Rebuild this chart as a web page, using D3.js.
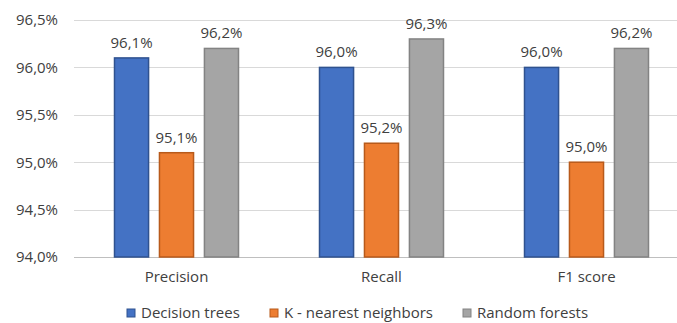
<!DOCTYPE html>
<html>
<head>
<meta charset="utf-8">
<script src="https://cdn.jsdelivr.net/npm/d3@7"></script>
<style>
  html, body { margin: 0; padding: 0; background: #fff; }
  svg { display: block; font-family: "Open Sans", "Noto Sans", sans-serif; }
</style>
</head>
<body>
<svg id="chart" width="677" height="323"></svg>
<script>
const categories = ["Precision", "Recall", "F1 score"];
const seriesNames = ["Decision trees", "K - nearest neighbors", "Random forests"];
const decisionTrees = [96.1, 96.0, 96.0];
const kNearest = [95.1, 95.2, 95.0];
const randomForests = [96.2, 96.3, 96.2];
const yTicks = [94.0, 94.5, 95.0, 95.5, 96.0, 96.5];

const fills = ["#4472C4", "#ED7D31", "#A5A5A5"];
const strokes = ["#2F528F", "#B85A1B", "#838383"];
const seriesValues = [decisionTrees, kNearest, randomForests];

const svg = d3.select("#chart");
const fmt = v => v.toFixed(1).replace(".", ",") + "%";
const FS = 15;

const x = d3.scaleBand().domain(categories).range([74, 689]).paddingInner(0).paddingOuter(0);
const xs = d3.scaleBand().domain(d3.range(3)).range([0, 125]).paddingInner(0.22).paddingOuter(0);
const y = d3.scaleLinear().domain([94.0, 96.5]).range([257, 20]);

// horizontal gridlines
svg.append("g")
  .selectAll("line")
  .data(yTicks)
  .join("line")
  .attr("x1", 74).attr("x2", 677)
  .attr("y1", d => Math.round(y(d)) + 0.5)
  .attr("y2", d => Math.round(y(d)) + 0.5)
  .attr("stroke", d => d === 94.0 ? "#BFBFBF" : "#D9D9D9")
  .attr("stroke-width", 1.2);

// y axis labels
const yAxis = d3.axisLeft(y).tickValues(yTicks).tickFormat(fmt).tickSize(0).tickPadding(0);
const yg = svg.append("g").attr("transform", "translate(58,0)").call(yAxis);
yg.select(".domain").remove();
yg.selectAll("text").attr("font-size", FS).attr("fill", "#404040")
  .attr("font-family", "'Open Sans', sans-serif");

// bars and value labels
categories.forEach((cat, ci) => {
  const gx = x(cat) + (x.bandwidth() - 125) / 2;
  seriesValues.forEach((vals, si) => {
    const v = vals[ci];
    const bx = gx + xs(si);
    svg.append("rect")
      .attr("x", bx + 0.5)
      .attr("y", y(v))
      .attr("width", xs.bandwidth() - 1)
      .attr("height", y(94.0) - y(v))
      .attr("fill", fills[si])
      .attr("stroke", strokes[si])
      .attr("stroke-width", 1.5);
    svg.append("text")
      .attr("x", bx + xs.bandwidth() / 2)
      .attr("y", y(v) - 10)
      .attr("text-anchor", "middle")
      .attr("font-size", FS)
      .attr("fill", "#404040")
      .text(fmt(v));
  });
});

// x axis labels
const xAxis = d3.axisBottom(x).tickSize(0).tickPadding(0);
const xg = svg.append("g").attr("transform", "translate(0,271)").call(xAxis);
xg.select(".domain").remove();
xg.selectAll("text").attr("font-size", FS).attr("fill", "#404040")
  .attr("font-family", "'Open Sans', sans-serif");

// legend
const legendX = [127, 270, 463];
const lg = svg.append("g");
seriesNames.forEach((name, i) => {
  lg.append("rect")
    .attr("x", legendX[i]).attr("y", 309)
    .attr("width", 8).attr("height", 8)
    .attr("fill", fills[i]).attr("stroke", strokes[i]).attr("stroke-width", 1);
  lg.append("text")
    .attr("x", legendX[i] + 14).attr("y", 318)
    .attr("font-size", FS).attr("fill", "#404040")
    .text(name);
});
</script>
</body>
</html>
